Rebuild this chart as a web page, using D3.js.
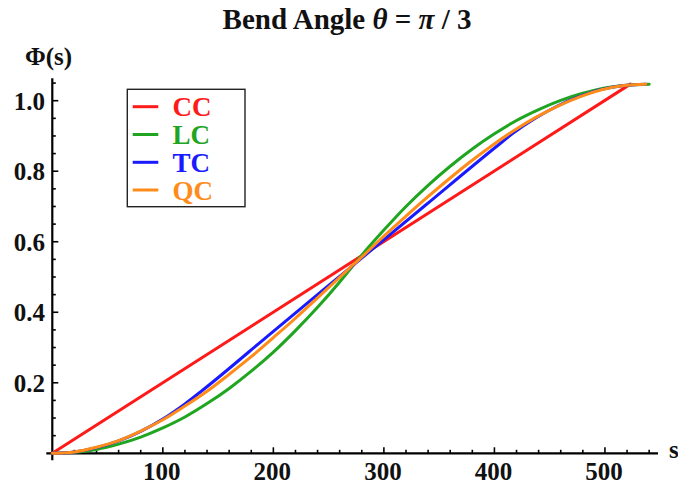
<!DOCTYPE html>
<html>
<head>
<meta charset="utf-8">
<script src="https://cdn.jsdelivr.net/npm/d3@7/dist/d3.min.js"></script>
<style>
  html, body { margin: 0; padding: 0; background: #fff; }
  svg { display: block; }
  text { font-family: "Liberation Serif", "Times New Roman", serif; font-weight: bold; }
</style>
</head>
<body>
<svg id="chart" width="678" height="484"></svg>
<script>
// ---- data ----
const seriesNames = ["CC", "LC", "TC", "QC"];

const ccS   = [0, 523];
const ccPhi = [0, 1.047];

const lcS   = [0, 20, 40, 60, 80, 100, 120, 140, 160, 180, 200, 220, 240, 260, 270,
               280, 300, 320, 340, 360, 380, 400, 420, 440, 460, 480, 500, 520, 540];
const lcPhi = [0, 0.003, 0.011, 0.026, 0.046, 0.072, 0.103, 0.141, 0.184, 0.233, 0.287, 0.348, 0.414, 0.486, 0.524,
               0.562, 0.633, 0.700, 0.760, 0.814, 0.863, 0.906, 0.944, 0.975, 1.001, 1.021, 1.036, 1.044, 1.047];

const tcS   = [0, 20, 40, 60, 80, 100, 120, 134, 200, 268.5, 337, 403, 417, 437, 457, 477, 497, 517, 537];
const tcPhi = [0, 0.004, 0.016, 0.035, 0.062, 0.097, 0.140, 0.174, 0.346, 0.524, 0.702, 0.873, 0.908, 0.950, 0.985, 1.012, 1.032, 1.043, 1.047];

const qcS   = [0, 20, 40, 60, 80, 100, 120, 140, 160, 180, 200, 220, 240, 260, 268.5,
               277, 297, 317, 337, 357, 377, 397, 417, 437, 457, 477, 497, 517, 537];
const qcPhi = [0, 0.004, 0.017, 0.036, 0.063, 0.095, 0.134, 0.176, 0.224, 0.274, 0.328, 0.383, 0.441, 0.499, 0.524,
               0.548, 0.607, 0.664, 0.720, 0.773, 0.824, 0.871, 0.914, 0.952, 0.984, 1.011, 1.031, 1.043, 1.047];

const xTickValues = [100, 200, 300, 400, 500];
const xTickLabels = ["100", "200", "300", "400", "500"];
const yTickValues = [0.2, 0.4, 0.6, 0.8, 1.0];
const yTickLabels = ["0.2", "0.4", "0.6", "0.8", "1.0"];

// ---- styling ----
const colors = { CC: "#ff1a1a", LC: "#1fa51f", TC: "#1a1aff", QC: "#ff8c1a" };

const svg = d3.select("#chart");

const x = d3.scaleLinear().domain([0, 548]).range([52.3, 658]);
const y = d3.scaleLinear().domain([0, 1.0]).range([453.3, 100.7]);
const yTop = 1.064;

// title
const title = svg.append("text")
  .attr("x", 347).attr("y", 29)
  .attr("text-anchor", "middle")
  .style("font-size", "29px")
  .attr("fill", "#111");
title.append("tspan").text("Bend Angle ");
title.append("tspan").style("font-style", "italic").text("θ");
title.append("tspan").text(" = ");
title.append("tspan").style("font-style", "italic").text("π");
title.append("tspan").text(" / 3");

// axes lines
const axisG = svg.append("g").attr("stroke", "#000").attr("fill", "none");
axisG.append("line")
  .attr("x1", x(0) - 6).attr("x2", x(548))
  .attr("y1", y(0)).attr("y2", y(0))
  .attr("stroke-width", 2.2);
axisG.append("line")
  .attr("x1", x(0)).attr("x2", x(0))
  .attr("y1", y(0) + 7).attr("y2", y(yTop))
  .attr("stroke-width", 2.2);

// x ticks
const xMinor = d3.range(20, 548, 20);
axisG.selectAll("line.xt").data(xMinor).join("line")
  .attr("x1", d => x(d)).attr("x2", d => x(d))
  .attr("y1", y(0)).attr("y2", d => y(0) - (d % 100 === 0 ? 6 : 3.5))
  .attr("stroke-width", 1.6);

// y ticks
const yMinor = d3.range(1, 22).map(i => i * 0.05).filter(v => v <= yTop);
axisG.selectAll("line.yt").data(yMinor).join("line")
  .attr("y1", d => y(d)).attr("y2", d => y(d))
  .attr("x1", x(0)).attr("x2", (d, i) => x(0) + ((i + 1) % 4 === 0 ? 6 : 3.5))
  .attr("stroke-width", 1.6);

// tick labels
svg.selectAll("text.xl").data(xTickValues).join("text")
  .attr("class", "xl")
  .attr("x", d => x(d) - 1).attr("y", 480)
  .attr("text-anchor", "middle")
  .style("font-size", "25px")
  .attr("fill", "#111")
  .text((d, i) => xTickLabels[i]);

svg.selectAll("text.yl").data(yTickValues).join("text")
  .attr("class", "yl")
  .attr("x", 45).attr("y", d => y(d) + 9)
  .attr("text-anchor", "end")
  .style("font-size", "25px")
  .attr("fill", "#111")
  .text((d, i) => yTickLabels[i]);

// axis labels
svg.append("text")
  .attr("x", 25).attr("y", 65)
  .style("font-size", "25px")
  .attr("fill", "#111")
  .text("Φ(s)");
svg.append("text")
  .attr("x", 669).attr("y", 458)
  .style("font-size", "25px")
  .attr("fill", "#111")
  .text("s");

// curves
const line = d3.line()
  .x(d => x(d[0]))
  .y(d => y(d[1]))
  .curve(d3.curveMonotoneX);

const series = [
  { name: "CC", s: ccS, v: ccPhi },
  { name: "LC", s: lcS, v: lcPhi },
  { name: "TC", s: tcS, v: tcPhi },
  { name: "QC", s: qcS, v: qcPhi }
];

svg.append("g").selectAll("path").data(series).join("path")
  .attr("d", d => line(d.s.map((s, i) => [s, d.v[i]])))
  .attr("fill", "none")
  .attr("stroke", d => colors[d.name])
  .attr("stroke-width", 3)
  .attr("stroke-linecap", "round");

// legend
const lg = svg.append("g");
lg.append("rect")
  .attr("x", 127.3).attr("y", 89.3)
  .attr("width", 117.7).attr("height", 117.4)
  .attr("fill", "#fff")
  .attr("stroke", "#222")
  .attr("stroke-width", 1.4);

const legendY = [106.7, 134.5, 162.3, 190];
seriesNames.forEach((n, i) => {
  lg.append("line")
    .attr("x1", 132.7).attr("x2", 158.3)
    .attr("y1", legendY[i]).attr("y2", legendY[i])
    .attr("stroke", colors[n]).attr("stroke-width", 3);
  lg.append("text")
    .attr("x", 172.5).attr("y", legendY[i] + 9.5)
    .style("font-size", "27px")
    .attr("fill", colors[n])
    .text(n);
});
</script>
</body>
</html>
